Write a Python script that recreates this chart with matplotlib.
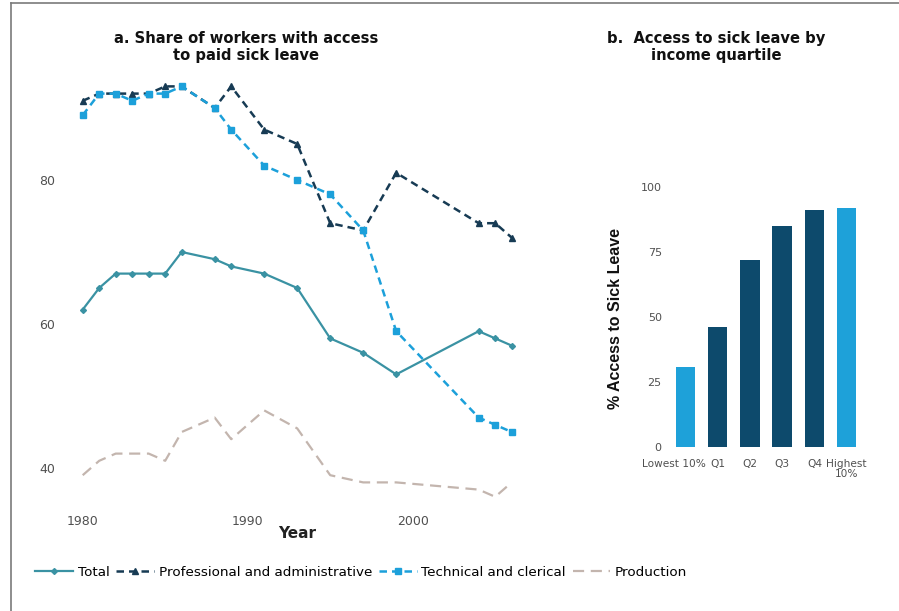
import matplotlib
matplotlib.use("Agg")
import matplotlib.pyplot as plt
from matplotlib.lines import Line2D

plt.rcParams['font.family'] = ['DejaVu Sans']

# Panel a: share of workers with paid sick leave
years = [1980, 1981, 1982, 1983, 1984, 1985, 1986, 1988, 1989, 1991,
         1993, 1995, 1997, 1999, 2004, 2005, 2006]
total = [62, 65, 67, 67, 67, 67, 70, 69, 68, 67, 65, 58, 56, 53, 59, 58, 57]
professional = [91, 92, 92, 92, 92, 93, 93, 90, 93, 87, 85, 74, 73, 81, 74, 74, 72]
technical = [89, 92, 92, 91, 92, 92, 93, 90, 87, 82, 80, 78, 73, 59, 47, 46, 45]
production = [39, 41, 42, 42, 42, 41, 45, 47, 44, 48, 45.5, 39, 38, 38, 37, 36, 38]

# Panel b: access by income group
groups = ["Lowest 10%", "Q1", "Q2", "Q3", "Q4", "Highest\n10%"]
access = [31, 46, 72, 85, 91, 92]

c_total = "#3a92a3"
c_prof = "#173b54"
c_tech = "#1ca0da"
c_prod = "#c3b5ae"
c_bar_dark = "#0d4a6c"
c_bar_light = "#1ea1d9"
tick_col = "#505050"

W, H = 899, 611
fig = plt.figure(figsize=(W / 100, H / 100), dpi=100)

def pos(x0, y0, x1, y1):
    return [x0 / W, 1 - y1 / H, (x1 - x0) / W, (y1 - y0) / H]

# ---- panel a ----
ax = fig.add_axes(pos(66.2, 72, 528.2, 511.2))
ax.plot(years, total, color=c_total, lw=1.6, marker='D', ms=3, label="Total")
ax.plot(years, professional, color=c_prof, lw=1.8, ls=(0, (3, 2)),
        marker='^', ms=5, label="Professional and administrative")
ax.plot(years, technical, color=c_tech, lw=1.8, ls=(0, (3, 2)),
        marker='s', ms=4, label="Technical and clerical")
ax.plot(years, production, color=c_prod, lw=1.6, ls=(0, (5, 3)),
        label="Production")
ax.set_xlim(1979, 2007)
ax.set_ylim(34, 95)
ax.set_xticks([1980, 1990, 2000])
ax.set_yticks([40, 60, 80])
for s in ax.spines.values():
    s.set_visible(False)
ax.tick_params(length=0, labelsize=9, colors=tick_col)
ax.tick_params(axis='x', pad=3)
ax.tick_params(axis='y', pad=8)
ax.set_xlabel("Year", fontsize=11, fontweight='bold', color="#222222", labelpad=-2)

fig.text(246 / W, 1 - 47 / H, "a. Share of workers with access\nto paid sick leave",
         ha='center', va='center', fontsize=10.6, fontweight='bold',
         color="#111111", linespacing=1.15)

# ---- panel b ----
bx = fig.add_axes(pos(665.9, 178.9, 866.1, 452.5))
xs = list(range(len(groups)))
colors = [c_bar_light, c_bar_dark, c_bar_dark, c_bar_dark, c_bar_dark, c_bar_light]
bx.bar(xs, access, width=0.6, color=colors)
bx.set_xlim(-0.6, 5.6)
bx.set_ylim(-2, 103)
bx.set_xticks(xs)
bx.set_xticklabels([])
# category labels below the bars; the first one is nudged left to clear "Q1"
for i, g in enumerate(groups):
    bx.annotate(g, xy=(i, 0), xycoords=('data', 'axes fraction'),
                xytext=(-8 if i == 0 else 0, -5), textcoords='offset points',
                ha='center', va='top', fontsize=7.6, color=tick_col,
                linespacing=0.95)
bx.set_yticks([0, 25, 50, 75, 100])
for s in bx.spines.values():
    s.set_visible(False)
bx.tick_params(length=0, labelsize=8, colors=tick_col, pad=3)
bx.set_ylabel("% Access to Sick Leave", fontsize=11.5, fontweight='bold',
              family=['Liberation Sans'], color="#111111")
bx.yaxis.set_label_coords(-0.214, 0.49)

fig.text(716 / W, 1 - 47 / H, "b.  Access to sick leave by\nincome quartile",
         ha='center', va='center', fontsize=10.6, fontweight='bold',
         color="#111111", linespacing=1.15)

# ---- legend ----
handles, labels = ax.get_legend_handles_labels()
fig.legend(handles, labels, loc='center left',
           bbox_to_anchor=(30 / W, 1 - 572 / H), ncol=4, frameon=False,
           fontsize=9.7, handlelength=2.8, handletextpad=0.35,
           columnspacing=0.5, borderaxespad=0)

# frame edges along top and left
fig.add_artist(Line2D([11 / W, 1], [1 - 3 / H, 1 - 3 / H], color="#7a7a7a", lw=1.2))
fig.add_artist(Line2D([11 / W, 11 / W], [0, 1 - 3 / H], color="#7a7a7a", lw=1.2))

fig.savefig("out.png", dpi=100)
